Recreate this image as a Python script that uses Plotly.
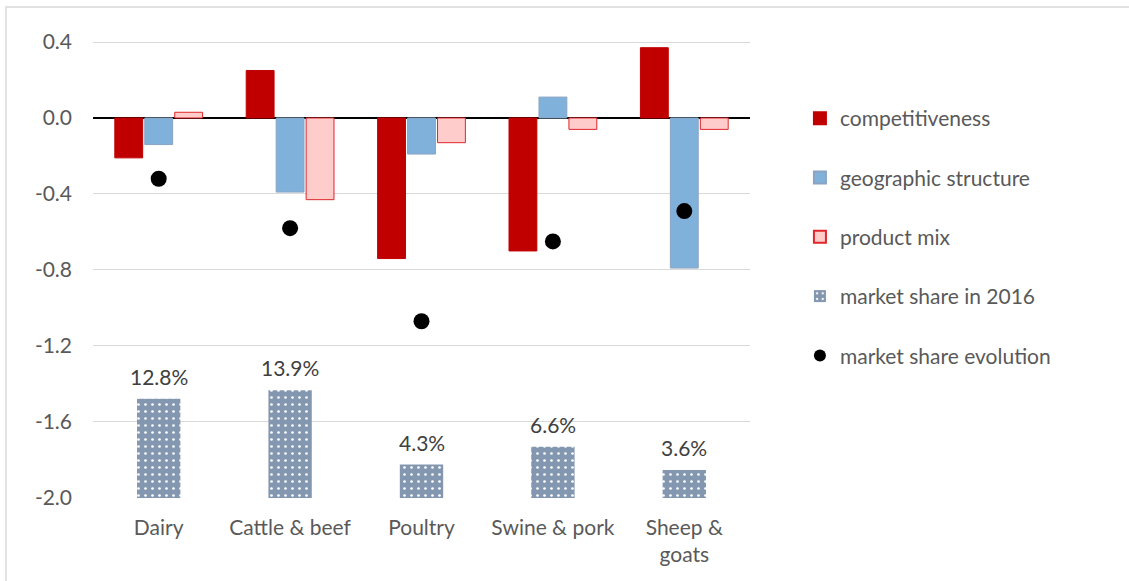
import plotly.graph_objects as go

categories = ["Dairy", "Cattle & beef", "Poultry", "Swine & pork", "Sheep & goats"]
category_labels = ["Dairy", "Cattle & beef", "Poultry", "Swine & pork", "Sheep &<br>goats"]

competitiveness = [-0.21, 0.25, -0.74, -0.70, 0.37]
geographic_structure = [-0.14, -0.39, -0.19, 0.11, -0.79]
product_mix = [0.03, -0.43, -0.13, -0.06, -0.06]
market_share_2016 = [12.8, 13.9, 4.3, 6.6, 3.6]  # percent
market_share_evolution = [-0.32, -0.58, -1.07, -0.65, -0.49]

y_tickvals = [0.4, 0.0, -0.4, -0.8, -1.2, -1.6, -2.0]
y_ticktext = ["0.4", "0.0", "-0.4", "-0.8", "-1.2", "-1.6", "-2.0"]

FONT = "Lato"
TEXT_COL = "#595959"
FS = 21
Y_RANGE = [-2.0005, 0.5]
SHARE_SCALE = 4.08  # primary-axis units per 1.0 of market share (secondary axis)

fig = go.Figure()

fig.add_trace(go.Bar(
    name="competitiveness", x=categories, y=competitiveness,
    marker=dict(color="#C00000", line=dict(color="#C00000", width=1)),
    legendgroup="a", xaxis="x", yaxis="y",
))
fig.add_trace(go.Bar(
    name="geographic structure", x=categories, y=geographic_structure,
    marker=dict(color="#80B1DB", line=dict(color="#8AA4C2", width=1)),
    legendgroup="b", xaxis="x", yaxis="y",
))
fig.add_trace(go.Bar(
    name="product mix", x=categories, y=product_mix,
    marker=dict(color="#FFCCCC", line=dict(color="#E0262A", width=1)),
    legendgroup="c", xaxis="x", yaxis="y",
))
fig.add_trace(go.Bar(
    name="market share in 2016", x=categories,
    y=[v / 100 for v in market_share_2016],
    width=0.33,
    marker=dict(
        color="#8497B0",
        line=dict(color="#8497B0", width=0),
        pattern=dict(shape=".", fgcolor="white", bgcolor="#8497B0",
                     size=7, solidity=0.12, fillmode="replace"),
    ),
    legendgroup="d", xaxis="x2", yaxis="y2",
))
fig.add_trace(go.Scatter(
    name="market share evolution", x=categories, y=market_share_evolution,
    mode="markers", marker=dict(color="black", size=16),
    legendgroup="e", xaxis="x", yaxis="y",
))

# percentage labels above the market-share bars
for c, v in zip(categories, market_share_2016):
    fig.add_annotation(
        x=c, y=v / 100, xref="x2", yref="y2",
        text=f"{v:.1f}%", showarrow=False, yanchor="bottom", yshift=8,
        font=dict(family=FONT, size=FS, color="#404040"),
    )

# light frame around the chart area
fig.add_shape(
    type="rect", xref="paper", yref="paper",
    x0=-0.1324, x1=2.0, y0=-1.0, y1=1.0337,
    line=dict(color="#D9D9D9", width=1.5), fillcolor="rgba(0,0,0,0)",
    layer="below",
)

fig.update_layout(
    width=1129, height=581,
    margin=dict(l=93, r=379, t=23, b=83),
    paper_bgcolor="white", plot_bgcolor="white",
    font=dict(family=FONT, size=FS, color=TEXT_COL),
    barmode="group", bargap=0.316, bargroupgap=0.07,
    showlegend=True,
    legend=dict(
        x=1.076, y=0.842, xanchor="left", yanchor="top",
        font=dict(family=FONT, size=FS, color=TEXT_COL),
        tracegroupgap=29, bgcolor="rgba(0,0,0,0)",
        itemsizing="constant",
    ),
    xaxis=dict(
        type="category", range=[-0.5, 4.5],
        tickvals=categories, ticktext=category_labels,
        showgrid=False, zeroline=False, showline=False, ticks="",
        ticklabelstandoff=15,
        tickfont=dict(family=FONT, size=FS, color=TEXT_COL),
    ),
    xaxis2=dict(
        type="category", range=[-0.5, 4.5], overlaying="x",
        visible=False,
    ),
    yaxis=dict(
        range=Y_RANGE, tickvals=y_tickvals, ticktext=y_ticktext,
        showgrid=True, gridcolor="#D9D9D9", gridwidth=1,
        zeroline=True, zerolinecolor="#000000", zerolinewidth=2,
        showline=False, ticks="", ticklabelstandoff=20,
        tickfont=dict(family=FONT, size=FS, color=TEXT_COL),
    ),
    yaxis2=dict(
        range=[(Y_RANGE[0] + 2.0) / SHARE_SCALE, (Y_RANGE[1] + 2.0) / SHARE_SCALE],
        overlaying="y", visible=False,
    ),
)

fig.write_html("out.html")
